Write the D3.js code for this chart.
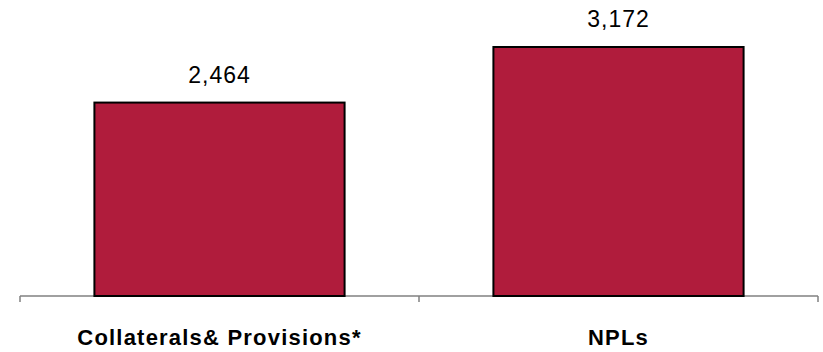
<!DOCTYPE html>
<html>
<head>
<meta charset="utf-8">
<script src="https://cdn.jsdelivr.net/npm/d3@7"></script>
<style>
  html, body { margin: 0; padding: 0; background: #ffffff; }
  svg { display: block; }
</style>
</head>
<body>
<svg id="chart" width="823" height="352"></svg>
<script>
// Chart data
const categories = ["Collaterals& Provisions*", "NPLs"];
const values = [2464, 3172];
const valueLabels = ["2,464", "3,172"];

const width = 823, height = 352;
const margin = { left: 20, right: 5, top: 47, bottom: 56 };
const baseY = height - margin.bottom;

const svg = d3.select("#chart");

const x = d3.scaleBand()
  .domain(categories)
  .range([margin.left, width - margin.right])
  .paddingInner(0.373)
  .paddingOuter(0.1865);

const y = d3.scaleLinear()
  .domain([0, d3.max(values)])
  .range([baseY, margin.top]);

// Category axis: baseline with ticks at band boundaries
const axisG = svg.append("g");
axisG.append("line")
  .attr("x1", margin.left).attr("x2", width - margin.right)
  .attr("y1", baseY).attr("y2", baseY)
  .attr("stroke", "#808080").attr("stroke-width", 1.5);

const step = x.step();
const boundaries = d3.range(categories.length + 1).map(i => margin.left + i * step);
axisG.selectAll("line.tick")
  .data(boundaries)
  .join("line")
  .attr("class", "tick")
  .attr("x1", d => d).attr("x2", d => d)
  .attr("y1", baseY).attr("y2", baseY + 6)
  .attr("stroke", "#808080").attr("stroke-width", 1.5);

// Bars
svg.selectAll("rect.bar")
  .data(values)
  .join("rect")
  .attr("class", "bar")
  .attr("x", (d, i) => x(categories[i]))
  .attr("width", x.bandwidth())
  .attr("y", d => y(d))
  .attr("height", d => baseY - y(d))
  .attr("fill", "#B01C3C")
  .attr("stroke", "#000000")
  .attr("stroke-width", 2);

// Value labels
svg.selectAll("text.value")
  .data(values)
  .join("text")
  .attr("class", "value")
  .attr("x", (d, i) => x(categories[i]) + x.bandwidth() / 2)
  .attr("y", d => y(d) - 20)
  .attr("text-anchor", "middle")
  .attr("font-family", "Liberation Sans, Arial, sans-serif")
  .attr("font-size", 23)
  .attr("letter-spacing", 1)
  .attr("fill", "#000")
  .text((d, i) => valueLabels[i]);

// Category labels
svg.selectAll("text.cat")
  .data(categories)
  .join("text")
  .attr("class", "cat")
  .attr("x", d => x(d) + x.bandwidth() / 2)
  .attr("y", 345)
  .attr("text-anchor", "middle")
  .attr("font-family", "Liberation Sans, Arial, sans-serif")
  .attr("font-size", 22)
  .attr("font-weight", "bold")
  .attr("letter-spacing", 1.2)
  .attr("fill", "#000")
  .text(d => d);
</script>
</body>
</html>
